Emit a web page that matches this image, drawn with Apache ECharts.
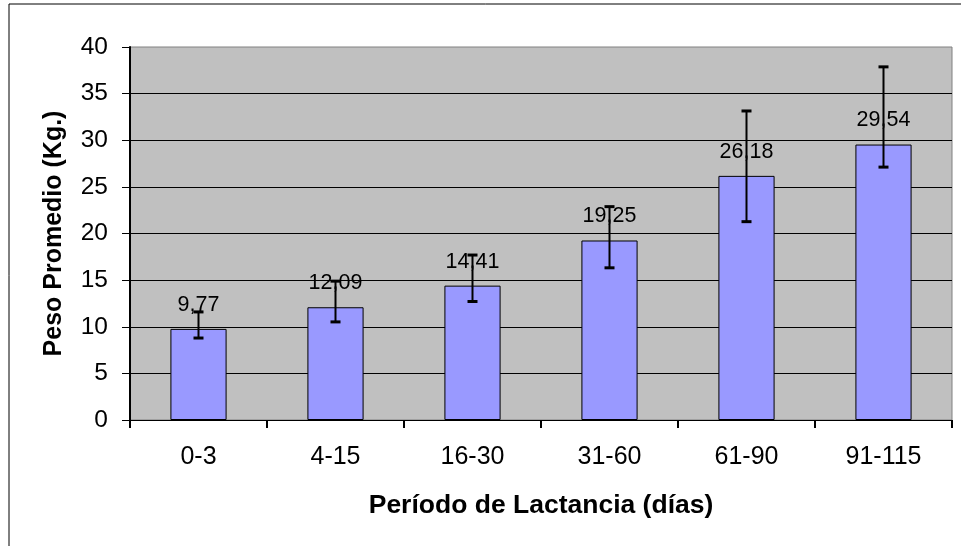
<!DOCTYPE html>
<html>
<head>
<meta charset="utf-8">
<script src="https://cdn.jsdelivr.net/npm/echarts@6/dist/echarts.min.js"></script>
<style>
  html, body { margin: 0; padding: 0; background: #fff; }
  #chart { width: 961px; height: 546px; }
</style>
</head>
<body>
<div id="chart"></div>
<script>
// Data
var categories = ['0-3', '4-15', '16-30', '31-60', '61-90', '91-115'];
var means = [9.77, 12.09, 14.41, 19.25, 26.18, 29.54];
var errHigh = [11.59, 14.89, 17.69, 22.88, 33.14, 37.87];
var errLow = [8.79, 10.52, 12.71, 16.32, 21.27, 27.12];
var yMin = 0, yMax = 40, yStep = 5;
var xTitle = 'Período de Lactancia (días)';
var yTitle = 'Peso Promedio (Kg.)';

var FONT = '"Liberation Sans", Arial, sans-serif';

var errData = categories.map(function (c, i) { return [i, errLow[i], errHigh[i]]; });

var chart = echarts.init(document.getElementById('chart'), null, { renderer: 'canvas' });
chart.setOption({
  animation: false,
  backgroundColor: '#ffffff',
  graphic: [{
    type: 'rect',
    shape: { x: 9, y: 4, width: 1000, height: 1000 },
    style: { fill: 'none', stroke: '#000', lineWidth: 1 },
    silent: true,
    z: 100
  }],
  grid: {
    left: 130, right: 9, top: 47, bottom: 126,
    show: true,
    backgroundColor: '#C0C0C0',
    borderColor: '#808080',
    borderWidth: 1
  },
  xAxis: {
    type: 'category',
    data: categories,
    boundaryGap: true,
    name: xTitle,
    nameLocation: 'middle',
    nameGap: 72,
    nameTextStyle: { fontFamily: FONT, fontSize: 26.5, fontWeight: 'bold', color: '#000' },
    axisLine: { show: true, lineStyle: { color: '#000', width: 1 } },
    axisTick: { show: true, length: 8, alignWithLabel: false, lineStyle: { color: '#000', width: 2 } },
    axisLabel: { fontFamily: FONT, fontSize: 25, color: '#000', margin: 25 },
    splitLine: { show: false }
  },
  yAxis: {
    type: 'value',
    min: yMin, max: yMax, interval: yStep,
    name: yTitle,
    nameLocation: 'middle',
    nameGap: 63,
    nameTextStyle: { fontFamily: FONT, fontSize: 25, fontWeight: 'bold', color: '#000' },
    axisLine: { show: true, lineStyle: { color: '#000', width: 2 } },
    axisTick: { show: true, length: 8, lineStyle: { color: '#000', width: 1 } },
    axisLabel: { fontFamily: FONT, fontSize: 24.5, color: '#000', margin: 22 },
    splitLine: { show: true, showMaxLine: false, showMinLine: false, lineStyle: { color: '#000', width: 1 } }
  },
  series: [{
    type: 'bar',
    data: means,
    barWidth: '41%',
    itemStyle: { color: '#9999FF', borderColor: '#000', borderWidth: 1 },
    label: {
      show: true,
      position: 'top',
      distance: 13,
      fontFamily: FONT,
      fontSize: 21.5,
      color: '#000',
      formatter: function (p) { return String(p.value.toFixed(2)).replace('.', ','); }
    },
    z: 2
  }, {
    type: 'custom',
    data: errData,
    z: 10,
    encode: { x: 0, y: [1, 2] },
    renderItem: function (params, api) {
      var i = api.value(0);
      var lo = api.coord([i, api.value(1)]);
      var hi = api.coord([i, api.value(2)]);
      var half = 5;
      return {
        type: 'group',
        children: [
          { type: 'line', shape: { x1: hi[0], y1: hi[1], x2: lo[0], y2: lo[1] }, style: { stroke: '#000', lineWidth: 2 } },
          { type: 'line', shape: { x1: hi[0] - half, y1: hi[1], x2: hi[0] + half, y2: hi[1] }, style: { stroke: '#000', lineWidth: 3 } },
          { type: 'line', shape: { x1: lo[0] - half, y1: lo[1], x2: lo[0] + half, y2: lo[1] }, style: { stroke: '#000', lineWidth: 3 } }
        ]
      };
    }
  }]
});
</script>
</body>
</html>
